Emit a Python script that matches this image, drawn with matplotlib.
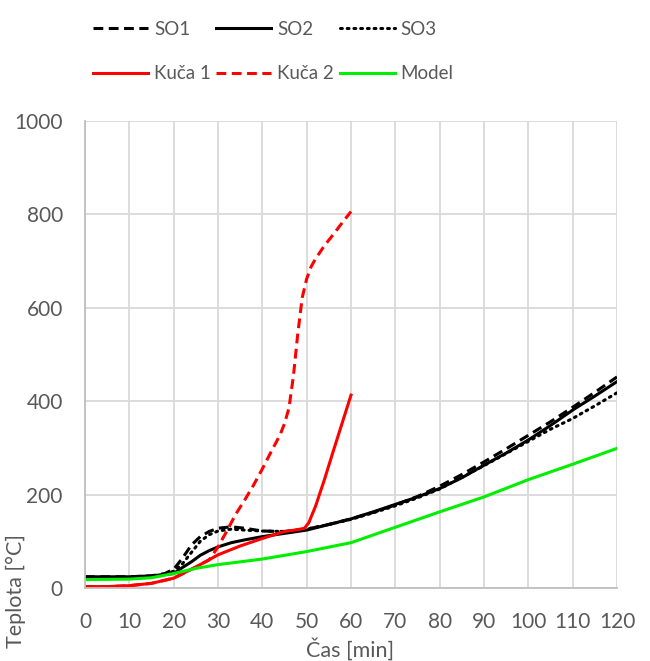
import matplotlib
matplotlib.use("Agg")
import matplotlib.pyplot as plt

# Time axis (minutes) for the measured standard-fire curves
t_so = [0, 5, 10, 15, 18, 20, 22, 24, 26, 28, 30, 33, 36, 40, 45, 50, 55, 60,
        65, 70, 75, 80, 85, 90, 95, 100, 105, 110, 115, 120]
so1 = [24, 24, 24, 26, 31, 40, 64, 92, 110, 121, 128, 131, 128, 122, 121, 126, 136, 148,
       162, 178, 196, 218, 243, 270, 298, 327, 356, 387, 419, 452]
so2 = [24, 24, 24, 26, 29, 31, 44, 56, 70, 80, 88, 97, 103, 110, 117, 124, 136, 148,
       163, 179, 195, 213, 236, 263, 289, 317, 348, 381, 411, 442]
so3 = [22, 22, 22, 24, 29, 36, 52, 76, 100, 114, 122, 126, 124, 122, 121, 126, 136, 147,
       161, 176, 193, 212, 237, 262, 288, 314, 340, 363, 390, 418]

# House fire measurements
t_k1 = [0, 5, 10, 15, 20, 25, 30, 35, 40, 45, 48, 49.5, 50.5, 51, 52, 54, 56, 58, 60]
kuca1 = [3, 3, 5, 10, 21, 45, 71, 90, 106, 121, 125, 128, 140, 152, 175, 232, 293, 353, 413]

t_k2 = [0, 5, 10, 15, 20, 25, 28, 30, 32, 34, 36, 38, 40, 42, 44, 45, 46, 47, 48, 49,
        50, 51, 52, 54, 56, 58, 60]
kuca2 = [3, 3, 5, 10, 21, 45, 60, 88, 122, 158, 188, 220, 255, 292, 328, 352, 385, 453,
         545, 622, 662, 688, 705, 733, 757, 782, 806]

# Numerical model
t_model = [0, 10, 15, 20, 25, 30, 40, 50, 60, 70, 80, 90, 100, 110, 120]
model = [18, 19, 22, 31, 42, 50, 62, 78, 97, 130, 163, 195, 232, 265, 299]

x_ticks = list(range(0, 121, 10))
y_ticks = list(range(0, 1001, 200))

plt.rcParams['font.family'] = ['Lato', 'DejaVu Sans']
text_col = '#595959'

fig = plt.figure(figsize=(6.5, 6.61), dpi=100)
ax = fig.add_axes([85 / 650, 1 - 588 / 661, (617 - 85) / 650, (588 - 121) / 661])

lw = 2.2
l_so1, = ax.plot(t_so, so1, color='black', lw=lw, linestyle=(0, (3.2, 1.8)), label='SO1')
l_so2, = ax.plot(t_so, so2, color='black', lw=lw, linestyle='-', label='SO2')
l_so3, = ax.plot(t_so, so3, color='black', lw=lw, linestyle=(0, (0.6, 1.6)),
                 dash_capstyle='round', label='SO3')
l_k1, = ax.plot(t_k1, kuca1, color='#ff0000', lw=lw, linestyle='-', label='Kuča 1')
l_k2, = ax.plot(t_k2, kuca2, color='#ff0000', lw=lw, linestyle=(0, (3.2, 1.8)), label='Kuča 2')
l_m, = ax.plot(t_model, model, color='#00ee00', lw=lw, linestyle='-', label='Model')

ax.set_xlim(0, 120)
ax.set_ylim(0, 1000)
ax.set_xticks(x_ticks)
ax.set_yticks(y_ticks)
ax.grid(True, color='#d9d9d9', lw=1.3)
ax.set_axisbelow(True)
for s in ['top', 'right']:
    ax.spines[s].set_visible(False)
for s in ['left', 'bottom']:
    ax.spines[s].set_color('#bfbfbf')
    ax.spines[s].set_linewidth(1.3)
ax.tick_params(length=0, labelsize=15, colors=text_col)
ax.tick_params(axis='y', pad=16)
ax.tick_params(axis='x', pad=17)

fig.text(350 / 650, 1 - 649 / 661, 'Čas [min]', ha='center', va='center',
         fontsize=15.5, color=text_col)
fig.text(16 / 650, 1 - 591 / 661, 'Teplota [°C]', ha='center', va='center',
         rotation=90, fontsize=15.5, color=text_col)

handles = [l_so1, l_k1, l_so2, l_k2, l_so3, l_m]
leg = fig.legend(handles=handles, labels=[h.get_label() for h in handles], ncol=3,
                 loc='upper left', bbox_to_anchor=(93 / 650, 1 - 21 / 661),
                 frameon=False, fontsize=13.5, handlelength=2.93, handletextpad=0.32,
                 columnspacing=0.3, labelspacing=1.45, borderpad=0, borderaxespad=0)
for txt in leg.get_texts():
    txt.set_color(text_col)

fig.savefig('out.png', dpi=100)
